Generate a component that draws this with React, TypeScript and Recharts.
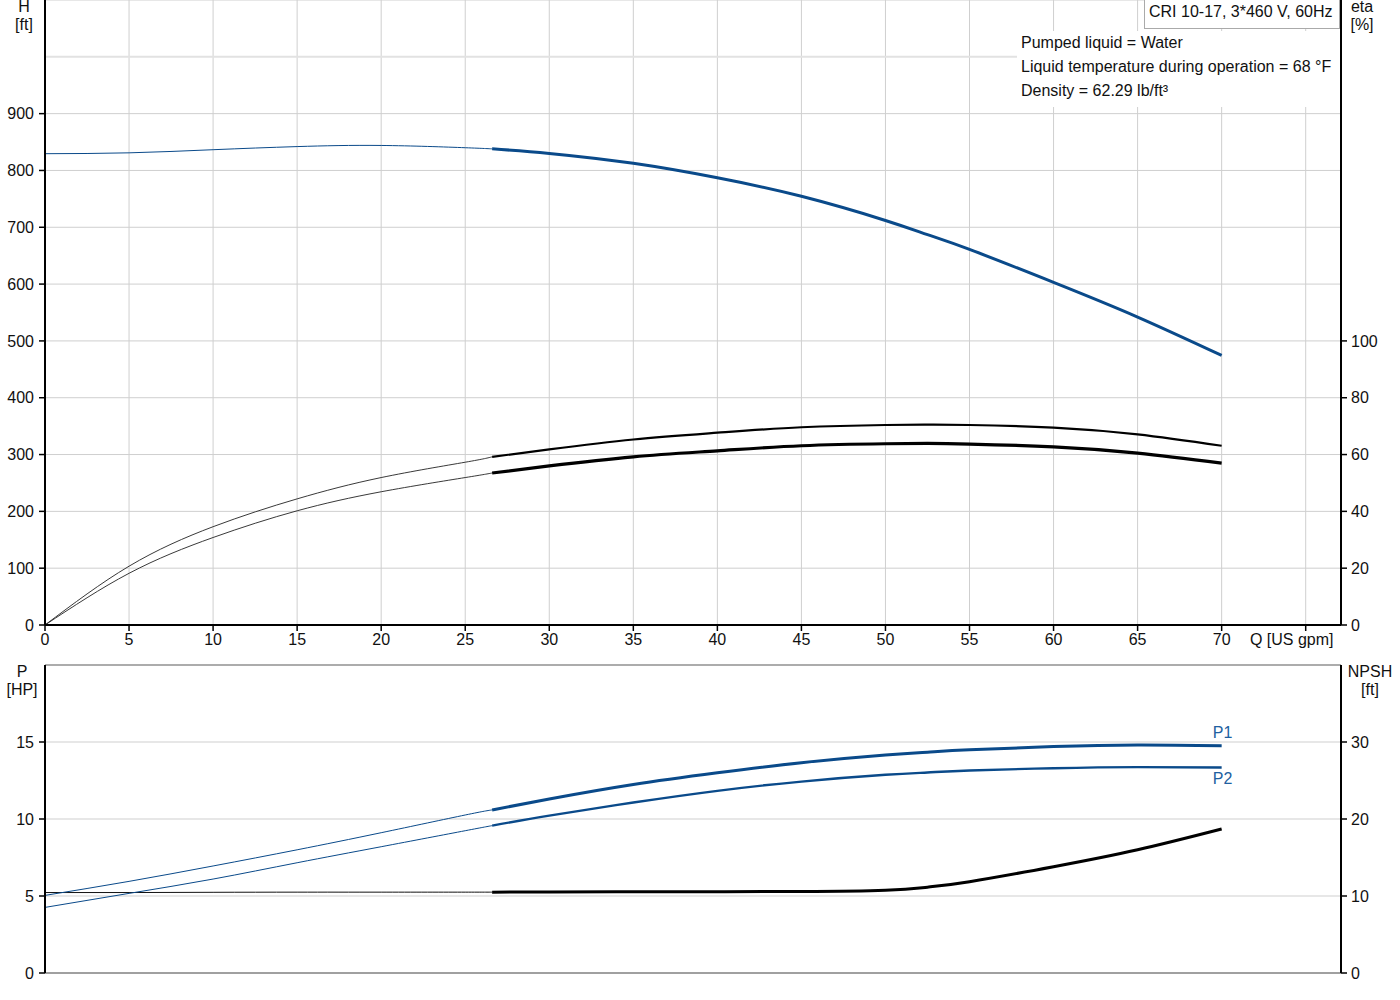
import { LineChart, Line, XAxis, YAxis, CartesianGrid, ReferenceLine } from "recharts";

const FONT = '"Liberation Sans", Arial, sans-serif';
const BLUE = "#0a4a8a";
const LABEL_BLUE = "#2060a0";
const GRID = "#cfcfcf";
const INK = "#111";

// flow points (US gpm); the duty range starts at 26.6
const Q = [0, 5, 10, 15, 20, 25, 26.6, 30, 35, 40, 45, 50, 52.5, 55, 60, 65, 70];
const SPLIT = 26.6;

const H = [829.5, 831, 836.5, 842, 844, 840, 838, 830, 812.5, 787, 754.5, 712, 687, 661, 603, 542, 474.5];
const ETA_PUMP = [0, 20.7, 34.6, 44.4, 51.9, 57.3, 59.2, 61.8, 65.3, 67.7, 69.6, 70.4, 70.5, 70.4, 69.5, 67.1, 63.1];
const ETA_TOTAL = [0, 18.2, 30.8, 40.2, 46.9, 51.9, 53.5, 56.0, 59.2, 61.3, 63.1, 63.8, 63.9, 63.7, 62.7, 60.5, 57.0];
const P1 = [5.04, 5.95, 6.95, 8.0, 9.11, 10.26, 10.59, 11.3, 12.24, 13.0, 13.66, 14.16, 14.34, 14.49, 14.7, 14.8, 14.75];
const P2 = [4.26, 5.17, 6.1, 7.16, 8.2, 9.24, 9.57, 10.22, 11.07, 11.83, 12.43, 12.87, 13.02, 13.15, 13.3, 13.37, 13.34];
const NPSH = [10.45, 10.45, 10.48, 10.5, 10.5, 10.5, 10.5, 10.52, 10.55, 10.56, 10.58, 10.75, 11.15, 11.86, 13.8, 16.0, 18.7];

const Q_TICKS = [0, 5, 10, 15, 20, 25, 30, 35, 40, 45, 50, 55, 60, 65, 70, 75];
const H_TICKS = [0, 100, 200, 300, 400, 500, 600, 700, 800, 900];
const ETA_TICKS = [0, 20, 40, 60, 80, 100];
const P_TICKS = [0, 5, 10, 15];
const NPSH_TICKS = [0, 10, 20, 30];

const INFO_LINES = [
  "Pumped liquid = Water",
  "Liquid temperature during operation = 68 °F",
  "Density = 62.29 lb/ft³",
];

const thin = (q: number, v: number) => (q <= SPLIT ? v : null);
const thick = (q: number, v: number) => (q >= SPLIT ? v : null);

const rows = Q.map((q, i) => ({
  q,
  hA: thin(q, H[i]),
  hB: thick(q, H[i]),
  e1A: thin(q, ETA_PUMP[i]),
  e1B: thick(q, ETA_PUMP[i]),
  e2A: thin(q, ETA_TOTAL[i]),
  e2B: thick(q, ETA_TOTAL[i]),
  p1A: thin(q, P1[i]),
  p1B: thick(q, P1[i]),
  p2A: thin(q, P2[i]),
  p2B: thick(q, P2[i]),
  nA: thin(q, NPSH[i]),
  nB: thick(q, NPSH[i]),
}));

const tickStyle = { fontSize: 16, fill: INK, fontFamily: FONT };
const axisLine = { stroke: "#000", strokeWidth: 2 };
const tickLine = { stroke: "#000", strokeWidth: 1.5 };

function QTick(props: any) {
  const { x, y, payload } = props;
  const last = payload.value === 75;
  return (
    <text x={last ? x - 14 : x} y={y + 12} textAnchor="middle" fontSize={16} fontFamily={FONT} fill={INK}>
      {last ? "Q [US gpm]" : payload.value}
    </text>
  );
}

const endLabel = (text: string, dy: number) => (p: any) =>
  p.index === Q.length - 1 ? (
    <text x={p.x + 1} y={p.y + dy} textAnchor="middle" fontSize={16} fontFamily={FONT} fill={LABEL_BLUE}>
      {text}
    </text>
  ) : (
    <g />
  );

function AxisTitle({ x, y, lines }: { x: number; y: number; lines: string[] }) {
  return (
    <div style={{ position: "absolute", left: x - 40, top: y, width: 80, textAlign: "center", fontFamily: FONT, fontSize: 16, lineHeight: "18px", color: INK }}>
      {lines.map((l) => (
        <div key={l}>{l}</div>
      ))}
    </div>
  );
}

export default function App() {
  const line = (key: string, axis: string, color: string, w: number, label?: any) => (
    <Line
      key={key}
      yAxisId={axis}
      dataKey={key}
      type="natural"
      stroke={color}
      strokeWidth={w}
      dot={false}
      activeDot={false}
      isAnimationActive={false}
      label={label}
    />
  );

  return (
    <div style={{ position: "absolute", left: 0, top: 0, width: 1400, height: 1000, background: "#fff", fontFamily: FONT }}>
      <div style={{ position: "absolute", left: 0, top: 0 }}>
        <LineChart width={1400} height={652} data={rows} margin={{ top: 0, right: 0, bottom: 0, left: 0 }}>
          <CartesianGrid yAxisId="h" stroke={GRID} strokeWidth={1} />
          <XAxis
            type="number"
            dataKey="q"
            domain={[0, 77.1]}
            ticks={Q_TICKS}
            interval={0}
            height={27}
            tickSize={6}
            tickMargin={2}
            axisLine={axisLine}
            tickLine={tickLine}
            tick={QTick}
          />
          <YAxis yAxisId="h" domain={[0, 1100]} ticks={H_TICKS} interval={0} width={45} tickSize={6} tickMargin={5} axisLine={axisLine} tickLine={tickLine} tick={tickStyle} />
          <YAxis yAxisId="eta" orientation="right" domain={[0, 220]} ticks={ETA_TICKS} interval={0} width={59} tickSize={6} tickMargin={4} axisLine={axisLine} tickLine={tickLine} tick={tickStyle} />
          <ReferenceLine yAxisId="h" y={1000} stroke="#e2e2e2" strokeWidth={2} />
          {line("hA", "h", BLUE, 1)}
          {line("hB", "h", BLUE, 3)}
          {line("e1A", "eta", "#222", 0.9)}
          {line("e1B", "eta", "#000", 2.2)}
          {line("e2A", "eta", "#222", 0.9)}
          {line("e2B", "eta", "#000", 3.2)}
        </LineChart>
      </div>

      <div style={{ position: "absolute", left: 0, top: 655 }}>
        <LineChart width={1400} height={330} data={rows} margin={{ top: 10, right: 0, bottom: 0, left: 0 }}>
          <CartesianGrid yAxisId="p" stroke={GRID} strokeWidth={1} />
          <XAxis type="number" dataKey="q" domain={[0, 77.1]} ticks={Q_TICKS} interval={0} height={12} tick={false} tickLine={false} axisLine={{ stroke: "#888", strokeWidth: 1.5 }} />
          <YAxis yAxisId="p" domain={[0, 20]} ticks={P_TICKS} interval={0} width={45} tickSize={6} tickMargin={5} axisLine={axisLine} tickLine={tickLine} tick={tickStyle} />
          <YAxis yAxisId="n" orientation="right" domain={[0, 40]} ticks={NPSH_TICKS} interval={0} width={59} tickSize={6} tickMargin={4} axisLine={axisLine} tickLine={tickLine} tick={tickStyle} />
          <ReferenceLine yAxisId="p" y={20} stroke="#999" strokeWidth={1.5} />
          {line("nA", "n", "#111", 1)}
          {line("nB", "n", "#000", 3)}
          {line("p1A", "p", BLUE, 1)}
          {line("p1B", "p", BLUE, 3, endLabel("P1", -8))}
          {line("p2A", "p", BLUE, 1)}
          {line("p2B", "p", BLUE, 2.4, endLabel("P2", 16))}
        </LineChart>
      </div>

      <AxisTitle x={24} y={-2} lines={["H", "[ft]"]} />
      <AxisTitle x={1362} y={-2} lines={["eta", "[%]"]} />
      <AxisTitle x={22} y={663} lines={["P", "[HP]"]} />
      <AxisTitle x={1370} y={663} lines={["NPSH", "[ft]"]} />

      <div
        style={{
          position: "absolute",
          left: 1144,
          top: -1,
          width: 196,
          height: 30,
          boxSizing: "border-box",
          border: "1px solid #aaa",
          background: "#fff",
          fontSize: 16,
          lineHeight: "24px",
          paddingLeft: 4,
          color: INK,
          whiteSpace: "nowrap",
        }}
      >
        CRI 10-17, 3*460 V, 60Hz
      </div>

      <div style={{ position: "absolute", left: 1017, top: 31, width: 323, height: 76, background: "#fff", paddingLeft: 4, boxSizing: "border-box", fontSize: 16, lineHeight: "24px", color: INK, whiteSpace: "nowrap" }}>
        {INFO_LINES.map((t) => (
          <div key={t}>{t}</div>
        ))}
      </div>
    </div>
  );
}
